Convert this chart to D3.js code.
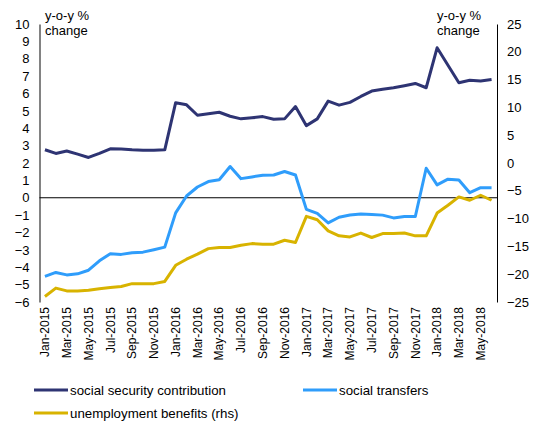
<!DOCTYPE html>
<html><head><meta charset="utf-8">
<script src="https://cdn.jsdelivr.net/npm/d3@7/dist/d3.min.js"></script>
<style>body{margin:0;background:#fff}svg text{font-family:"Liberation Sans",Arial,sans-serif;fill:#000}</style>
</head><body><svg id="c" width="534" height="421"></svg>
<script>
const months = ["Jan","Feb","Mar","Apr","May","Jun","Jul","Aug","Sep","Oct","Nov","Dec"];
const categories = [];
for (let y = 2015; y <= 2018; y++) for (let m = 0; m < 12; m++) { if (y === 2018 && m > 5) break; categories.push(months[m] + "-" + y); }

const socialSecurity = [2.76,2.55,2.69,2.51,2.32,2.55,2.82,2.80,2.76,2.74,2.74,2.76,
  5.47,5.35,4.75,4.83,4.92,4.69,4.54,4.60,4.67,4.52,4.54,5.25,
  4.15,4.54,5.56,5.33,5.49,5.83,6.14,6.25,6.33,6.45,6.58,6.33,
  8.63,7.63,6.62,6.76,6.72,6.80];
const socialTransfers = [-4.53,-4.30,-4.44,-4.38,-4.17,-3.63,-3.22,-3.26,-3.16,-3.13,-2.99,-2.84,
  -0.87,0.10,0.62,0.93,1.04,1.80,1.10,1.20,1.30,1.31,1.51,1.31,
  -0.67,-0.90,-1.45,-1.12,-0.99,-0.93,-0.96,-1.00,-1.16,-1.08,-1.08,1.70,
  0.74,1.07,1.02,0.29,0.58,0.58];
const unemployment = [-24.0,-22.5,-23.0,-23.0,-22.9,-22.6,-22.4,-22.2,-21.7,-21.7,-21.7,-21.3,
  -18.4,-17.3,-16.4,-15.4,-15.2,-15.2,-14.8,-14.5,-14.6,-14.6,-13.9,-14.3,
  -9.6,-10.2,-12.2,-13.1,-13.3,-12.6,-13.4,-12.7,-12.7,-12.6,-13.1,-13.1,
  -9.0,-7.6,-6.1,-6.7,-5.8,-6.7];
const leftTicks = d3.range(-6, 11, 1);
const rightTicks = d3.range(-25, 26, 5);
const xTickLabels = categories.filter((d, i) => i % 2 === 0);

const series = [
  {name: "social security contribution", values: socialSecurity, axis: "left", color: "#2e3473"},
  {name: "social transfers", values: socialTransfers, axis: "left", color: "#2f9dfb"},
  {name: "unemployment benefits (rhs)", values: unemployment, axis: "right", color: "#d8b300"}
];

const svg = d3.select("#c");
const L = 39.5, R = 497, T = 24, B = 302;
const x = d3.scaleBand().domain(categories).range([L, R]);
const yL = d3.scaleLinear().domain([-6, 10]).range([B, T]);
const yR = d3.scaleLinear().domain([-25, 25]).range([B, T]);

// left axis
const gL = svg.append("g").attr("transform", `translate(${L},0)`)
  .call(d3.axisLeft(yL).tickValues(leftTicks).tickSize(0).tickPadding(10).tickFormat(d3.format("d")));
gL.select(".domain").attr("stroke", "#595959").attr("stroke-width", 1.5);
gL.selectAll("text").style("font-size", "13px");

// right axis
const gR = svg.append("g").attr("transform", `translate(${R},0)`)
  .call(d3.axisRight(yR).tickValues(rightTicks).tickSize(0).tickPadding(10).tickFormat(d3.format("d")));
gR.select(".domain").attr("stroke", "#000").attr("stroke-width", 1);
gR.selectAll("text").style("font-size", "13px");

// zero line
svg.append("line").attr("x1", L).attr("x2", R).attr("y1", yL(0)).attr("y2", yL(0))
  .attr("stroke", "#000").attr("stroke-width", 1.2);

// x axis labels
const gX = svg.append("g").attr("transform", `translate(0,${B})`)
  .call(d3.axisBottom(x).tickValues(xTickLabels).tickSize(0).tickPadding(0));
gX.select(".domain").remove();
gX.selectAll("text").style("font-size", "12px")
  .attr("transform", "rotate(-90)").attr("text-anchor", "end")
  .attr("x", -5).attr("y", 0).attr("dy", "0.35em");

// lines
series.forEach(s => {
  const yy = s.axis === "left" ? yL : yR;
  const line = d3.line().x((d, i) => x(categories[i]) + x.bandwidth() / 2).y(d => yy(d));
  svg.append("path").datum(s.values).attr("d", line)
    .attr("fill", "none").attr("stroke", s.color).attr("stroke-width", 3).attr("stroke-linejoin", "round");
});

// axis titles
const tl = svg.append("text").attr("x", 45).attr("y", 20).style("font-size", "13px");
tl.append("tspan").attr("x", 45).text("y-o-y %");
tl.append("tspan").attr("x", 45).attr("dy", 15).text("change");
const tr = svg.append("text").attr("x", 437).attr("y", 20).style("font-size", "13px");
tr.append("tspan").attr("x", 437).text("y-o-y %");
tr.append("tspan").attr("x", 437).attr("dy", 15).text("change");

// legend
const legPos = [{x: 34, y: 390}, {x: 303, y: 390}, {x: 34, y: 413}];
series.forEach((s, i) => {
  const p = legPos[i];
  svg.append("line").attr("x1", p.x).attr("x2", p.x + 34).attr("y1", p.y).attr("y2", p.y)
    .attr("stroke", s.color).attr("stroke-width", 3);
  svg.append("text").attr("x", p.x + 36).attr("y", p.y).attr("dy", "0.35em")
    .style("font-size", "13.3px").text(s.name);
});
</script></body></html>
